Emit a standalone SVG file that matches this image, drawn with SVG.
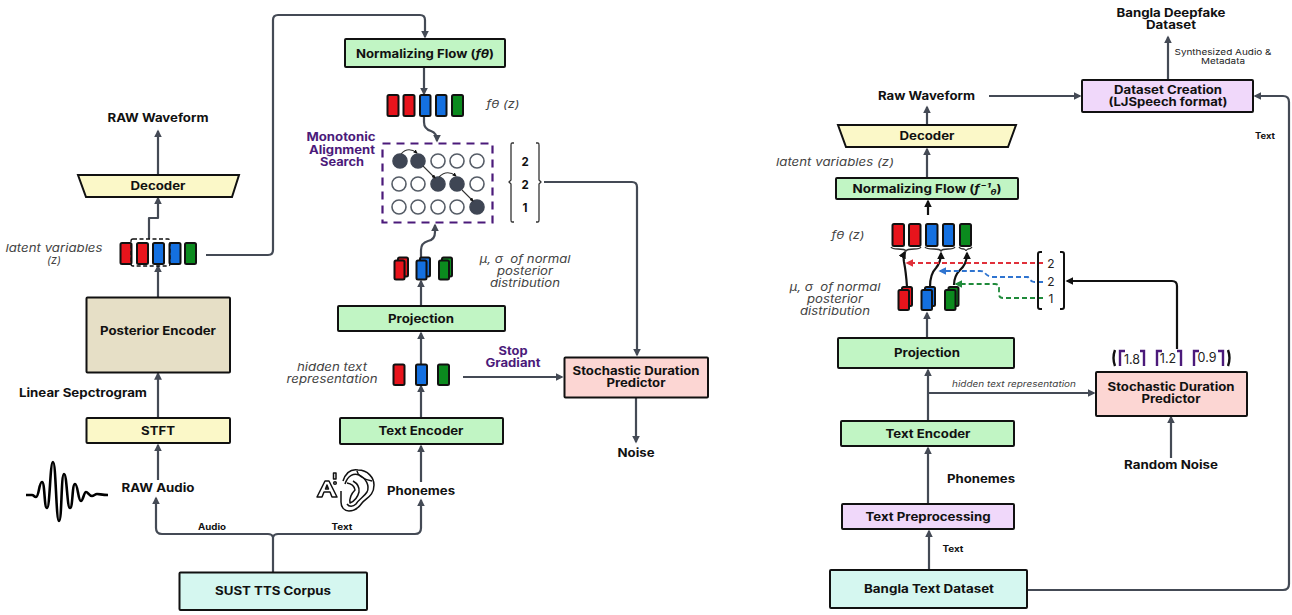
<svg xmlns="http://www.w3.org/2000/svg" width="1292" height="615" viewBox="0 0 1292 615">
<style>
text{font-family:"Inter","Liberation Sans",sans-serif;text-anchor:middle;fill:#111}
.b{font-weight:700;font-size:11.500px}
.i{font-style:italic;font-weight:400;font-size:11px;fill:#444;white-space:pre}
.s{font-weight:700;font-size:8.500px}
.p{font-weight:700;font-size:11.500px;fill:#4b1a7a}
.n{font-weight:400;font-size:11.500px;fill:#222}
.box{stroke:#111;stroke-width:2}
.g{fill:#c1f5c4}.y{fill:#fbf8c8}.t{fill:#d5f7f0}.r{fill:#fcd6d3}.v{fill:#f0d8fa}.k{fill:#e6dfc6}
.c{fill:none;stroke:#444a55;stroke-width:2.200;stroke-linejoin:round}
.k2{fill:none;stroke:#111;stroke-width:2.200}
.red{fill:#e8141c;stroke:#111;stroke-width:2}.blu{fill:#1470e0;stroke:#111;stroke-width:2}.grn{fill:#0b8a1e;stroke:#111;stroke-width:2}
.o{fill:#fff;stroke:#555c66;stroke-width:1.600}.f{fill:#3f4654;stroke:#3f4654;stroke-width:1.600}
.br{fill:none;stroke:#333;stroke-width:1.300}
.pb{fill:none;stroke:#4b1a7a;stroke-width:2.400}
</style>
<defs>
<marker id="a" viewBox="0 0 10 10" refX="8" refY="5" markerWidth="3.600" markerHeight="3.600" orient="auto"><path d="M0 0L10 5L0 10Z" fill="#444a55"/></marker>
<marker id="ak" viewBox="0 0 10 10" refX="8" refY="5" markerWidth="3.600" markerHeight="3.600" orient="auto"><path d="M0 0L10 5L0 10Z" fill="#111"/></marker>
<marker id="ar" viewBox="0 0 10 10" refX="8" refY="5" markerWidth="4.500" markerHeight="4.500" orient="auto"><path d="M0 0L10 5L0 10Z" fill="#e0303a"/></marker>
<marker id="ab" viewBox="0 0 10 10" refX="8" refY="5" markerWidth="4.500" markerHeight="4.500" orient="auto"><path d="M0 0L10 5L0 10Z" fill="#2f74d0"/></marker>
<marker id="ag" viewBox="0 0 10 10" refX="8" refY="5" markerWidth="4.500" markerHeight="4.500" orient="auto"><path d="M0 0L10 5L0 10Z" fill="#1f8a3a"/></marker>
</defs>
<rect width="1292" height="615" fill="#fff"/>

<g id="connectors">
<path class="c" d="M158 175V131" marker-end="url(#a)"/>
<path class="c" d="M149 239V218H158V198" marker-end="url(#a)"/>
<path class="c" d="M158 297V266" marker-end="url(#a)"/>
<path class="c" d="M158 418V373.500" marker-end="url(#a)"/>
<path class="c" d="M158 480V445" marker-end="url(#a)"/>
<path class="c" d="M273 572V537"/>
<path class="c" d="M273 537Q272 534 268 534H162Q156 534 156 528V498" marker-end="url(#a)"/>
<path class="c" d="M273 537Q274 534 278 534H415Q421 534 421 528V500" marker-end="url(#a)"/>
<path class="c" d="M421 482V446" marker-end="url(#a)"/>
<path class="c" d="M421 418V386" marker-end="url(#a)"/>
<path class="c" d="M421 364V333" marker-end="url(#a)"/>
<path class="c" d="M421 306V281" marker-end="url(#a)"/>
<path class="c" d="M421 258V250Q421 243 428 241Q435 240 435 232V225" marker-end="url(#a)"/>
<path class="c" d="M206 255H268Q273 255 273 250V20Q273 15 278 15H420Q425 15 425 20V37" marker-end="url(#a)"/>
<path class="c" d="M424 67V94" marker-end="url(#a)"/>
<path class="c" d="M424 116V122Q424 129 431 131Q437 133 437 141" marker-end="url(#a)"/>
<path class="c" d="M544 182H632Q637 182 637 187V355" marker-end="url(#a)"/>
<path class="c" d="M463 377H562" marker-end="url(#a)"/>
<path class="c" d="M636 397V442" marker-end="url(#a)"/>
<path class="c" d="M929 570V531" marker-end="url(#a)"/>
<path class="c" d="M928 504V448" marker-end="url(#a)"/>
<path class="c" d="M928 421V370" marker-end="url(#a)"/>
<path class="c" d="M928 393H1094" marker-end="url(#a)"/>
<path class="c" d="M927 338V313" marker-end="url(#a)"/>
<path class="c" d="M1171 458V417" marker-end="url(#a)"/>
<path class="c" d="M927 125V107" marker-end="url(#a)"/>
<path class="c" d="M927 178V149" marker-end="url(#a)"/>
<path class="c" d="M989 96H1080" marker-end="url(#a)"/>
<path class="c" d="M1168 79V37" marker-end="url(#a)"/>
<path class="c" d="M1027 590H1283Q1289 590 1289 584V102Q1289 96 1283 96H1255" marker-end="url(#a)"/>
<path class="k2" d="M928 215V201" marker-end="url(#ak)"/>
<path class="k2" d="M907 287Q906 272 904 262Q903 256 905 252" marker-end="url(#ak)"/>
<path class="k2" d="M930 287Q930 274 936 268Q941 262 941 253" marker-end="url(#ak)"/>
<path class="k2" d="M954 285Q954 276 960 270Q967 264 967 253" marker-end="url(#ak)"/>
<path class="k2" d="M1177 349V286Q1177 281 1172 281H1067" marker-end="url(#ak)"/>
<path d="M1043 263H907" fill="none" stroke="#e0303a" stroke-width="1.800" stroke-dasharray="5 3" marker-end="url(#ar)"/>
<path d="M1043 282H1034Q1030 281 1028 277H992Q987 276 985 273Q984 271 980 271H940" fill="none" stroke="#2f74d0" stroke-width="1.800" stroke-dasharray="5 3" marker-end="url(#ab)"/>
<path d="M1043 298H1003Q999 298 999 294V288Q999 284 995 284H956" fill="none" stroke="#1f8a3a" stroke-width="1.800" stroke-dasharray="5 3" marker-end="url(#ag)"/>
</g>

<g id="raw-waveform-l"><text class="b" x="158" y="122" textLength="101" lengthAdjust="spacingAndGlyphs">RAW Waveform</text></g>
<g id="decoder-l"><path class="box y" d="M78 175H239L232 197H86Z"/><text class="b" x="158" y="190" textLength="55" lengthAdjust="spacingAndGlyphs">Decoder</text></g>
<g id="latent-l">
<rect class="red" x="120.500" y="243" width="11" height="21" rx="1.500"/><rect class="red" x="137" y="243" width="11" height="21" rx="1.500"/><rect class="blu" x="153" y="243" width="11" height="21" rx="1.500"/><rect class="blu" x="169.500" y="243" width="11" height="21" rx="1.500"/><rect class="grn" x="185" y="243" width="11" height="21" rx="1.500"/>
<rect x="131" y="239" width="39" height="27" rx="2" fill="none" stroke="#111" stroke-width="1.300" stroke-dasharray="4 2.500"/>
<text class="i" x="54" y="252" textLength="97" lengthAdjust="spacingAndGlyphs">latent variables</text><text class="i" x="54" y="264">(z)</text>
</g>
<g id="posterior"><rect class="box k" x="86.500" y="297.500" width="143.500" height="75" rx="1"/><text class="b" x="158" y="335" textLength="116" lengthAdjust="spacingAndGlyphs">Posterior Encoder</text></g>
<g id="spec"><text class="b" x="83" y="397" textLength="128" lengthAdjust="spacingAndGlyphs">Linear Sepctrogram</text></g>
<g id="stft"><rect class="box y" x="86.500" y="418" width="143.500" height="25" rx="1"/><text class="b" x="158" y="435" textLength="34" lengthAdjust="spacingAndGlyphs">STFT</text></g>
<g id="raw-audio"><text class="b" x="158" y="492" textLength="73" lengthAdjust="spacingAndGlyphs">RAW Audio</text></g>
<g id="waveform"><path d="M26 495H32C34 495 34 497 36 497C39 497 39 482 42 482C45 482 44 508 47 508C50 508 50 462 53 462C56 462 56 521 59 521C62 521 61 474 64 474C67 474 67 508 70 508C73 508 72 484 75 484C78 484 78 501 81 501C83 501 84 492 86 492C88 492 89 496 92 496C94 496 95 494 97 494C100 494 102 495 108 495" fill="none" stroke="#000" stroke-width="2.600" stroke-linejoin="round"/></g>
<g id="ear" fill="none" stroke="#111" stroke-width="1.500" stroke-linejoin="round">
<path d="M343 481C346 472 352 469 358 470C368 470 374 478 374 485C374 496 366 498 362 503C358 509 354 511 349 511C344 511 341 507 341 502V491"/>
<path d="M345 484C348 475 354 473 359 475C366 478 370 486 367 492C364 497 359 499 356 504C353 507 349 507 347 504"/>
<path d="M357 471Q358 478 372 481"/>
<path d="M347 483Q354 484 355 490Q349 496 350 503Q357 500 359 492Q360 485 353 481"/>
<path d="M317 497L325 481H329L337 497H332L330 492H324L322 497ZM325.500 489H328.500L327 485Z"/>
<path d="M333.500 473H336V479H333.500Z"/><circle cx="335" cy="483" r="1.300"/>
</g>
<g id="phonemes"><text class="b" x="421" y="495" textLength="68" lengthAdjust="spacingAndGlyphs">Phonemes</text></g>
<g id="labels-l"><text class="s" x="212" y="530" textLength="28" lengthAdjust="spacingAndGlyphs">Audio</text><text class="s" x="342" y="530" textLength="21" lengthAdjust="spacingAndGlyphs">Text</text></g>
<g id="sust"><rect class="box t" x="179.500" y="572.500" width="187.500" height="37.500" rx="1"/><text class="b" x="273" y="595" textLength="116" lengthAdjust="spacingAndGlyphs">SUST TTS Corpus</text></g>
<g id="text-encoder-l"><rect class="box g" x="340" y="418" width="163" height="26" rx="1"/><text class="b" x="421" y="435" textLength="85" lengthAdjust="spacingAndGlyphs">Text Encoder</text></g>
<g id="hidden-l">
<rect class="red" x="393.500" y="364.500" width="11" height="20.500" rx="1.500"/><rect class="blu" x="416" y="364.500" width="11" height="20.500" rx="1.500"/><rect class="grn" x="438" y="364.500" width="11" height="20.500" rx="1.500"/>
<text class="i" x="332" y="371" textLength="70" lengthAdjust="spacingAndGlyphs">hidden text</text><text class="i" x="332" y="383" textLength="91" lengthAdjust="spacingAndGlyphs">representation</text>
</g>
<g id="projection-l"><rect class="box g" x="338" y="306" width="167" height="25" rx="1"/><text class="b" x="421" y="323" textLength="66" lengthAdjust="spacingAndGlyphs">Projection</text></g>
<g id="mu-l">
<rect class="red" x="398" y="257.500" width="10" height="19" rx="1.500"/><rect class="red" x="394.500" y="260.500" width="10" height="19" rx="1.500"/>
<rect class="blu" x="420" y="257.500" width="10" height="19" rx="1.500"/><rect class="blu" x="416.500" y="260.500" width="10" height="19" rx="1.500"/>
<rect class="grn" x="442" y="257.500" width="10" height="19" rx="1.500"/><rect class="grn" x="439" y="260.500" width="10" height="19" rx="1.500"/>
<text class="i" x="525" y="263" textLength="91" lengthAdjust="spacingAndGlyphs">μ, σ  of normal</text><text class="i" x="525" y="275" textLength="56" lengthAdjust="spacingAndGlyphs">posterior</text><text class="i" x="525" y="287" textLength="70" lengthAdjust="spacingAndGlyphs">distribution</text>
</g>
<g id="alignment">
<rect x="382.500" y="143.500" width="110" height="79" fill="none" stroke="#4b1a7a" stroke-width="2.200" stroke-dasharray="8 6"/>
<circle class="f" cx="400" cy="161" r="7"/><circle class="f" cx="418" cy="161" r="7"/><circle class="o" cx="438" cy="161" r="7"/><circle class="o" cx="457" cy="161" r="7"/><circle class="o" cx="477" cy="161" r="7"/>
<circle class="o" cx="399" cy="184" r="7"/><circle class="o" cx="418" cy="184" r="7"/><circle class="f" cx="438" cy="184" r="7"/><circle class="f" cx="457" cy="184" r="7"/><circle class="o" cx="477" cy="184" r="7"/>
<circle class="o" cx="399" cy="207" r="7"/><circle class="o" cx="418" cy="207" r="7"/><circle class="o" cx="438" cy="207" r="7"/><circle class="o" cx="457" cy="207" r="7"/><circle class="f" cx="477" cy="207" r="7"/>
<g fill="none" stroke="#333" stroke-width="1.100">
<path d="M401 154Q408 146 417 153" marker-end="url(#ak)"/><path d="M423 166L435 178" marker-end="url(#ak)"/><path d="M439 177Q447 169 456 176" marker-end="url(#ak)"/><path d="M462 190L473 201" marker-end="url(#ak)"/>
</g>
<text class="p" x="341" y="141" textLength="69" lengthAdjust="spacingAndGlyphs">Monotonic</text><text class="p" x="342" y="154" textLength="66" lengthAdjust="spacingAndGlyphs">Alignment</text><text class="p" x="342" y="166" textLength="44" lengthAdjust="spacingAndGlyphs">Search</text>
</g>
<g id="duration-vec">
<path class="br" d="M514 143H512Q511 143 511 145V180L509 182L511 184V220Q511 222 512 222H514"/>
<path class="br" d="M536 143H538Q539 143 539 145V180L541 182L539 184V220Q539 222 538 222H536"/>
<text class="b" x="525" y="166">2</text><text class="b" x="525" y="189">2</text><text class="b" x="525" y="212">1</text>
</g>
<g id="flow-l"><rect class="box g" x="345" y="39" width="160" height="28" rx="1"/><text class="b" x="425" y="58" textLength="138" lengthAdjust="spacingAndGlyphs">Normalizing Flow (<tspan font-style="italic">fθ</tspan>)</text></g>
<g id="ftheta-l">
<rect class="red" x="387.500" y="95" width="11" height="21" rx="1.500"/><rect class="red" x="403.500" y="95" width="11" height="21" rx="1.500"/><rect class="blu" x="420" y="95" width="10.500" height="21" rx="1.500"/><rect class="blu" x="436" y="95" width="10.500" height="21" rx="1.500"/><rect class="grn" x="452" y="95" width="11" height="21" rx="1.500"/>
<text class="i" x="503" y="108" textLength="33" lengthAdjust="spacingAndGlyphs">fθ (z)</text>
</g>
<g id="stop"><text class="p" x="513" y="355" textLength="29" lengthAdjust="spacingAndGlyphs">Stop</text><text class="p" x="513" y="367" textLength="55" lengthAdjust="spacingAndGlyphs">Gradiant</text></g>
<g id="sdp-l"><rect class="box r" x="564.500" y="357.500" width="143.500" height="40" rx="1"/><text class="b" x="636" y="375" textLength="127" lengthAdjust="spacingAndGlyphs">Stochastic Duration</text><text class="b" x="636" y="387" textLength="59" lengthAdjust="spacingAndGlyphs">Predictor</text></g>
<g id="noise-l"><text class="b" x="636" y="457" textLength="37" lengthAdjust="spacingAndGlyphs">Noise</text></g>

<g id="deepfake"><text class="b" x="1171" y="17" textLength="109" lengthAdjust="spacingAndGlyphs">Bangla Deepfake</text><text class="b" x="1171" y="29" textLength="50" lengthAdjust="spacingAndGlyphs">Dataset</text></g>
<g id="synth"><text class="n" style="font-size:8px" x="1223" y="55" textLength="97" lengthAdjust="spacingAndGlyphs">Synthesized Audio &amp;</text><text class="n" style="font-size:8px" x="1223" y="64" textLength="44" lengthAdjust="spacingAndGlyphs">Metadata</text></g>
<g id="dataset-creation"><rect class="box v" x="1082" y="80" width="171" height="32" rx="1"/><text class="b" x="1168" y="94" textLength="108" lengthAdjust="spacingAndGlyphs">Dataset Creation</text><text class="b" x="1168" y="106" textLength="119" lengthAdjust="spacingAndGlyphs">(LJSpeech format)</text></g>
<g id="text-r-top"><text class="s" x="1265" y="139" textLength="20" lengthAdjust="spacingAndGlyphs">Text</text></g>
<g id="raw-waveform-r"><text class="b" x="926.500" y="100" textLength="97" lengthAdjust="spacingAndGlyphs">Raw Waveform</text></g>
<g id="decoder-r"><path class="box y" d="M838 125H1016L1008 147H846Z"/><text class="b" x="927" y="140" textLength="55" lengthAdjust="spacingAndGlyphs">Decoder</text></g>
<g id="latent-r"><text class="i" x="835" y="166" textLength="118" lengthAdjust="spacingAndGlyphs">latent variables (z)</text></g>
<g id="flow-r"><rect class="box g" x="836" y="178" width="182" height="21" rx="1"/><text class="b" x="927" y="193" textLength="149" lengthAdjust="spacingAndGlyphs">Normalizing Flow (<tspan font-style="italic">f⁻¹<tspan font-size="8px" dy="2">θ</tspan></tspan><tspan dy="-2">)</tspan></text></g>
<g id="ftheta-r">
<rect class="red" x="892.500" y="224" width="11.500" height="22" rx="1.500"/><rect class="red" x="909" y="224" width="11.500" height="22" rx="1.500"/><rect class="blu" x="926" y="224" width="11.500" height="22" rx="1.500"/><rect class="blu" x="943" y="224" width="11" height="22" rx="1.500"/><rect class="grn" x="960" y="224" width="11" height="22" rx="1.500"/>
<text class="i" x="848" y="239" textLength="33" lengthAdjust="spacingAndGlyphs">fθ (z)</text>
<path class="br" d="M891 247Q892 249 898 249Q905 249 906 251Q907 249 914 249Q920 249 921 247M925 247Q926 249 934 249Q940 249 941 251Q942 249 948 249Q954 249 955 247M959 247Q960 249 964 249Q966 250 966 251Q966 250 968 249Q971 249 972 247"/>
</g>
<g id="mu-r">
<rect class="red" x="902" y="287" width="10" height="19" rx="1.500"/><rect class="red" x="898.500" y="290" width="10.500" height="20" rx="1.500"/>
<rect class="blu" x="925" y="287" width="10" height="19" rx="1.500"/><rect class="blu" x="921.500" y="290" width="10.500" height="20" rx="1.500"/>
<rect class="grn" x="948.500" y="287" width="10" height="19" rx="1.500"/><rect class="grn" x="945" y="290" width="10.500" height="20" rx="1.500"/>
<text class="i" x="835" y="291" textLength="91" lengthAdjust="spacingAndGlyphs">μ, σ  of normal</text><text class="i" x="835" y="303" textLength="56" lengthAdjust="spacingAndGlyphs">posterior</text><text class="i" x="835" y="315" textLength="70" lengthAdjust="spacingAndGlyphs">distribution</text>
</g>
<g id="duration-r">
<path fill="none" stroke="#111" stroke-width="2" d="M1042 252H1040Q1038 252 1038 254V307Q1038 309 1040 309H1042M1060 252H1062Q1064 252 1064 254V307Q1064 309 1062 309H1060"/>
<text class="n" x="1051" y="267.500" style="font-size:12px">2</text><text class="n" x="1051" y="286" style="font-size:12px">2</text><text class="n" x="1051" y="303" style="font-size:12px">1</text>
</g>
<g id="projection-r"><rect class="box g" x="838" y="338" width="176" height="30" rx="1"/><text class="b" x="927" y="357" textLength="66" lengthAdjust="spacingAndGlyphs">Projection</text></g>
<g id="hidden-r"><text class="i" style="font-size:8.500px" x="1014" y="387" textLength="124" lengthAdjust="spacingAndGlyphs">hidden text representation</text></g>
<g id="sdp-r"><rect class="box r" x="1096" y="372" width="151" height="44" rx="1"/><text class="b" x="1171" y="391" textLength="127" lengthAdjust="spacingAndGlyphs">Stochastic Duration</text><text class="b" x="1171" y="403" textLength="59" lengthAdjust="spacingAndGlyphs">Predictor</text></g>
<g id="durations">
<path fill="none" stroke="#111" stroke-width="2.400" d="M1115 350Q1112 358 1115 366M1228 350Q1231 358 1228 366"/>
<path class="pb" d="M1120 366V351H1125M1140 351H1144V366M1157 366V351H1162M1177 351H1181V366M1194 366V351H1199M1218 351H1223V366"/>
<text class="n" x="1132" y="363.500" style="font-size:12.500px">1.8</text><text class="n" x="1168" y="362.500" style="font-size:12.500px">1.2</text><text class="n" x="1207" y="361.500" style="font-size:12.500px">0.9</text>
</g>
<g id="random-noise"><text class="b" x="1171" y="469" textLength="94" lengthAdjust="spacingAndGlyphs">Random Noise</text></g>
<g id="text-encoder-r"><rect class="box g" x="841" y="421" width="173" height="25" rx="1"/><text class="b" x="928" y="438" textLength="85" lengthAdjust="spacingAndGlyphs">Text Encoder</text></g>
<g id="phonemes-r"><text class="b" x="981" y="483" textLength="68" lengthAdjust="spacingAndGlyphs">Phonemes</text></g>
<g id="preproc"><rect class="box v" x="842" y="504" width="172" height="25" rx="1"/><text class="b" x="928" y="521" textLength="125" lengthAdjust="spacingAndGlyphs">Text Preprocessing</text></g>
<g id="text-r"><text class="s" x="953" y="552" textLength="21" lengthAdjust="spacingAndGlyphs">Text</text></g>
<g id="bangla"><rect class="box t" x="830" y="570" width="197" height="38" rx="1"/><text class="b" x="929" y="593" textLength="130" lengthAdjust="spacingAndGlyphs">Bangla Text Dataset</text></g>
</svg>
